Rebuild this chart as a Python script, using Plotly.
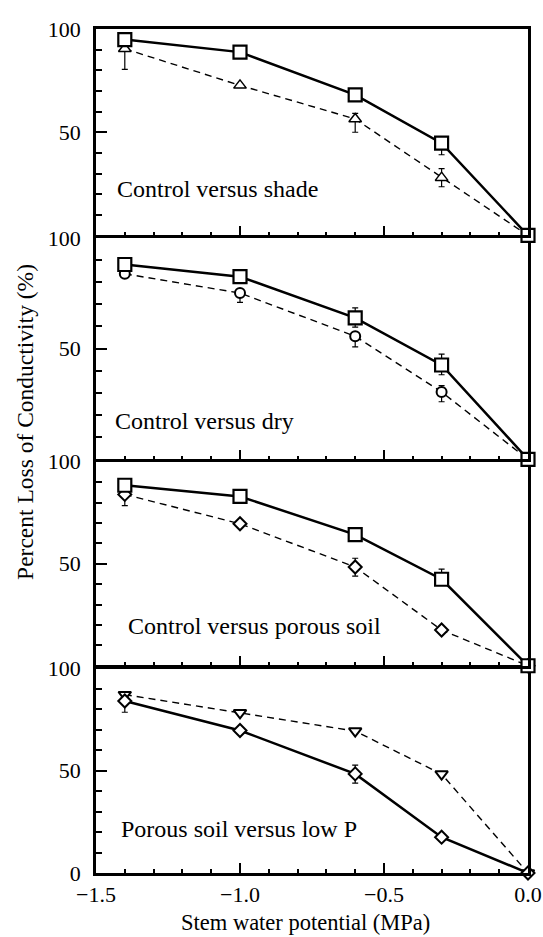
import plotly.graph_objects as go

# ---- data ----
x = [-1.4, -1.0, -0.6, -0.3, 0.0]

# Panel 1: control versus shade
p1_control = [94.9, 88.8, 68.1, 44.7, 0]
p1_control_err_minus = [0, 0, 0, 5.6, 0]
p1_control_err_plus = [0, 0, 0, 0, 0]
p1_shade = [90.4, 72.7, 56.4, 28.0, 0]
p1_shade_err_minus = [10.0, 0, 6.4, 4.4, 0]
p1_shade_err_plus = [0, 0, 2.7, 4.4, 0]

# Panel 2: control versus dry
p2_control = [88.0, 82.5, 63.9, 42.6, 0]
p2_control_err_minus = [0, 0, 4.2, 4.4, 0]
p2_control_err_plus = [0, 0, 4.5, 4.9, 0]
p2_dry = [83.8, 75.1, 55.6, 30.4, 0]
p2_dry_err_minus = [0, 4.2, 4.8, 4.4, 0]
p2_dry_err_plus = [0, 0, 0, 2.9, 0]

# Panel 3: control versus porous soil
p3_control = [88.5, 83.0, 64.3, 42.4, 0]
p3_control_err_minus = [0, 0, 0, 0, 0]
p3_control_err_plus = [0, 0, 0, 5.0, 0]
porous = [84.0, 69.6, 48.4, 17.5, 0]
porous_err_minus = [5.5, 0, 4.5, 0, 0]
porous_err_plus = [0, 0, 4.3, 0, 0]

# Panel 4: porous soil versus low P
lowp = [87.1, 78.2, 69.3, 48.3, 0]

panel_labels = ["Control versus shade", "Control versus dry",
                "Control versus porous soil", "Porous soil versus low P"]
label_pos = [(-1.435, 22.7), (-1.44, 17.3), (-1.395, 19.4), (-1.42, 21.5)]

x_tickvals = [-1.5, -1.0, -0.5, 0.0]
y_title = "Percent Loss of Conductivity (%)"
x_title = "Stem water potential (MPa)"

# ---- layout geometry ----
PLOT_H = 844.0
g = 1.25 / PLOT_H  # half gap so the neighbouring axis lines coincide
bounds = [1.0, 0.7539, 0.4887, 0.2441, 0.0]
domains = []
for i in range(4):
    top = bounds[i] - (g if i > 0 else 0)
    bot = bounds[i + 1] + (g if i < 3 else 0)
    domains.append([bot, top])

FONT = "Liberation Serif"
fig = go.Figure()


def ax_names(i):
    s = "" if i == 4 else str(5 - i)
    return "x" + s, "y" + s


def add_series(panel, yvals, symbol, size, solid, em=None, ep=None, lw_marker=2):
    xa, ya = ax_names(panel)
    err = None
    if em is not None:
        err = dict(type="data", symmetric=False, array=ep, arrayminus=em,
                   color="black", thickness=1.2, width=3)
    fig.add_trace(go.Scatter(
        x=x, y=yvals, xaxis=xa, yaxis=ya, mode="lines+markers",
        line=dict(color="black", width=2.5 if solid else 1.4,
                  dash="solid" if solid else "7px,5px"),
        marker=dict(symbol=symbol, size=size, color="white",
                    line=dict(color="black", width=lw_marker)),
        error_y=err, cliponaxis=False, showlegend=False))


# Panel 1
add_series(1, p1_shade, "triangle-up", 11, False, p1_shade_err_minus, p1_shade_err_plus, 1.5)
add_series(1, p1_control, "square", 13, True, p1_control_err_minus, p1_control_err_plus, 2.2)
# Panel 2
add_series(2, p2_dry, "circle", 10, False, p2_dry_err_minus, p2_dry_err_plus, 2)
add_series(2, p2_control, "square", 13, True, p2_control_err_minus, p2_control_err_plus, 2.2)
# Panel 3
add_series(3, porous, "diamond", 10, False, porous_err_minus, porous_err_plus, 2)
add_series(3, p3_control, "square", 13, True, p3_control_err_minus, p3_control_err_plus, 2.2)
# Panel 4
add_series(4, lowp, "triangle-down", 11, False, None, None, 2)
add_series(4, porous, "diamond", 10, True, porous_err_minus, porous_err_plus, 2)

layout = dict(
    width=543, height=937,
    margin=dict(l=96, r=15, t=29, b=64, autoexpand=False),
    paper_bgcolor="white", plot_bgcolor="white",
    font=dict(family=FONT, size=22, color="black"),
    showlegend=False,
)

annotations = []
for panel in range(1, 5):
    xa, ya = ax_names(panel)
    xkey = "xaxis" + xa[1:]
    ykey = "yaxis" + ya[1:]
    bottom = panel == 4
    layout[xkey] = dict(
        domain=[0, 1], anchor=ya, range=[-1.5, 0.0], automargin=False,
        showline=True, mirror=True, linecolor="black", linewidth=2.5,
        showgrid=False, zeroline=False,
        tickmode="array", tickvals=x_tickvals, tickformat=".1f",
        ticks="inside", ticklen=10, tickwidth=2, tickcolor="black",
        showticklabels=bottom, tickfont=dict(family=FONT, size=22),
        ticklabelstandoff=0,
        minor=dict(dtick=0.1, tick0=0, ticks="inside", ticklen=4,
                   tickwidth=2, tickcolor="black", showgrid=False),
    )
    yv = [0, 50, 100] if bottom else [50, 100]
    layout[ykey] = dict(
        domain=domains[panel - 1], anchor=xa, range=[0, 100], automargin=False,
        showline=True, mirror=True, linecolor="black", linewidth=2.5,
        showgrid=False, zeroline=False,
        tickmode="array", tickvals=yv,
        ticks="inside", ticklen=11, tickwidth=2, tickcolor="black",
        tickfont=dict(family=FONT, size=22), ticklabelstandoff=8,
        minor=dict(dtick=10, tick0=0, ticks="inside", ticklen=6,
                   tickwidth=2, tickcolor="black", showgrid=False),
    )
    lx, ly = label_pos[panel - 1]
    annotations.append(dict(
        x=lx, y=ly, xref=xa, yref=ya, text=panel_labels[panel - 1],
        showarrow=False, xanchor="left", yanchor="middle",
        font=dict(family=FONT, size=24, color="black")))

annotations.append(dict(
    x=-0.163, y=0.534, xref="paper", yref="paper", text=y_title,
    textangle=-90, showarrow=False, xanchor="center", yanchor="middle",
    font=dict(family=FONT, size=23.5, color="black")))
annotations.append(dict(
    x=0.485, y=-0.0592, xref="paper", yref="paper", text=x_title,
    showarrow=False, xanchor="center", yanchor="middle",
    font=dict(family=FONT, size=22.5, color="black")))
layout["annotations"] = annotations

fig.update_layout(**layout)
fig.write_html(
    "out.html",
    config={"displayModeBar": False},
    post_script="document.body.style.margin='0';document.body.style.overflow='hidden';",
)
